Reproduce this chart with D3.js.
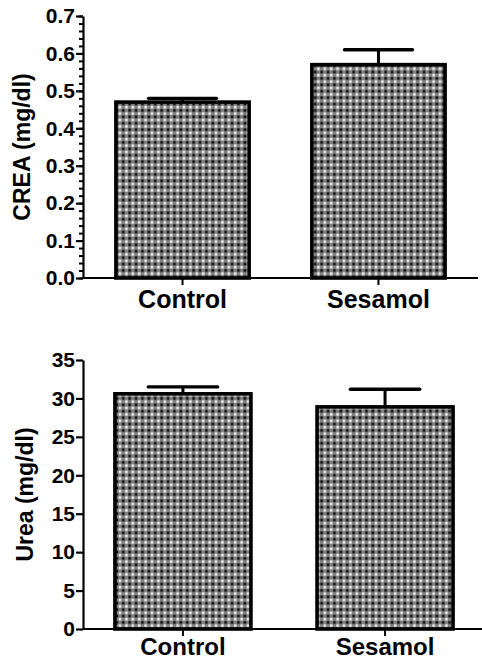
<!DOCTYPE html>
<html>
<head>
<meta charset="utf-8">
<script src="https://cdnjs.cloudflare.com/ajax/libs/d3/7.8.5/d3.min.js"></script>
<style>
  html, body { margin: 0; padding: 0; background: #fff; }
  svg { display: block; }
</style>
</head>
<body>
<script>
// groups shared by both panels
const groups = ["Control", "Sesamol"];

// top panel: creatinine
const creaMean = [0.47, 0.57];
const creaErr = [0.01, 0.04];
const creaTicks = [0, 0.1, 0.2, 0.3, 0.4, 0.5, 0.6, 0.7];

// bottom panel: urea
const ureaMean = [30.6, 28.9];
const ureaErr = [0.9, 2.3];
const ureaTicks = [0, 5, 10, 15, 20, 25, 30, 35];

const width = 482;
const height = 663;
const font = "'Liberation Sans', Arial, sans-serif";

const svg = d3.select("body").append("svg")
  .attr("width", width)
  .attr("height", height)
  .style("font-family", font)
  .style("font-weight", "bold");

// checkered fill like the print
const pat = svg.append("defs").append("pattern")
  .attr("id", "checks")
  .attr("patternUnits", "userSpaceOnUse")
  .attr("width", 6.4)
  .attr("height", 6.4);
pat.append("rect").attr("width", 6.4).attr("height", 6.4).attr("fill", "#808080");
pat.append("rect").attr("x", 0.3).attr("y", 0.3).attr("width", 2.7).attr("height", 2.7).attr("fill", "#101010");
pat.append("rect").attr("x", 3.5).attr("y", 3.5).attr("width", 2.6).attr("height", 2.6).attr("fill", "#eeeeee");

function panel(o) {
  const x = d3.scaleBand()
    .domain(groups)
    .range([o.left, o.right])
    .paddingInner(o.padInner)
    .paddingOuter(o.padOuter);

  const y = d3.scaleLinear()
    .domain([0, o.max])
    .range([o.bottom, o.top]);

  const g = svg.append("g");

  // bars
  g.selectAll("rect.bar")
    .data(groups)
    .join("rect")
    .attr("class", "bar")
    .attr("x", d => x(d))
    .attr("y", (d, i) => y(o.mean[i]))
    .attr("width", x.bandwidth())
    .attr("height", (d, i) => y(0) - y(o.mean[i]))
    .attr("fill", "url(#checks)")
    .attr("stroke", "#000")
    .attr("stroke-width", 3.6);

  // error bars (upper only)
  const capW = x.bandwidth() * 0.51;
  groups.forEach((d, i) => {
    const cx = x(d) + x.bandwidth() / 2;
    g.append("line")
      .attr("x1", cx).attr("x2", cx)
      .attr("y1", y(o.mean[i])).attr("y2", y(o.mean[i] + o.err[i]))
      .attr("stroke", "#000").attr("stroke-width", 3);
    g.append("line")
      .attr("x1", cx - capW / 2).attr("x2", cx + capW / 2)
      .attr("y1", y(o.mean[i] + o.err[i])).attr("y2", y(o.mean[i] + o.err[i]))
      .attr("stroke", "#000").attr("stroke-width", 3.4)
      .attr("stroke-linecap", "round");
  });

  // minor ticks
  if (o.minor) {
    const yMinor = svg.append("g")
      .attr("transform", `translate(${o.left},0)`)
      .call(d3.axisLeft(y).tickValues(d3.range(0, o.max + 1e-9, o.minor)).tickSize(4).tickFormat(""));
    yMinor.select(".domain").remove();
    yMinor.selectAll("line").attr("stroke-width", 2);
  }

  // y axis
  const yAxis = svg.append("g")
    .attr("transform", `translate(${o.left},0)`)
    .call(d3.axisLeft(y).tickValues(o.ticks).tickSize(7).tickSizeOuter(0).tickPadding(1).tickFormat(o.fmt));
  yAxis.select(".domain").attr("stroke-width", 2.2);
  yAxis.selectAll("line").attr("stroke-width", 2.2);
  yAxis.selectAll("text")
    .attr("fill", "#000")
    .style("font-size", "21px")
    .style("font-family", font)
    .style("font-weight", "bold");

  // x axis
  const xAxis = svg.append("g")
    .attr("transform", `translate(0,${o.bottom})`)
    .call(d3.axisBottom(x).tickSize(7).tickSizeOuter(0).tickPadding(o.xPad));
  xAxis.select(".domain").attr("stroke-width", 2.2)
    .attr("d", `M${o.left},0H${o.axisEnd}`);
  xAxis.selectAll("line").attr("stroke-width", 2);
  xAxis.selectAll("text")
    .attr("fill", "#000")
    .style("font-size", o.xFont)
    .style("font-family", font)
    .style("font-weight", "bold");

  // y title
  svg.append("text")
    .attr("transform", `translate(${o.titleX},${(o.top + o.bottom) / 2}) rotate(-90)`)
    .attr("text-anchor", "middle")
    .style("font-size", "23px")
    .text(o.title);
}

panel({
  mean: creaMean, err: creaErr, ticks: creaTicks, max: 0.7, minor: 0.02,
  fmt: d3.format(".1f"),
  left: 83, right: 478, axisEnd: 478, top: 16, bottom: 278,
  padInner: 0.32, padOuter: 0.168, xPad: 5, xFont: "25px",
  title: "CREA (mg/dl)", titleX: 30
});

panel({
  mean: ureaMean, err: ureaErr, ticks: ureaTicks, max: 35, minor: null,
  fmt: d3.format("d"),
  left: 83, right: 485, axisEnd: 485, top: 360, bottom: 629,
  padInner: 0.327, padOuter: 0.158, xPad: 2, xFont: "24px",
  title: "Urea (mg/dl)", titleX: 33
});
</script>
</body>
</html>
